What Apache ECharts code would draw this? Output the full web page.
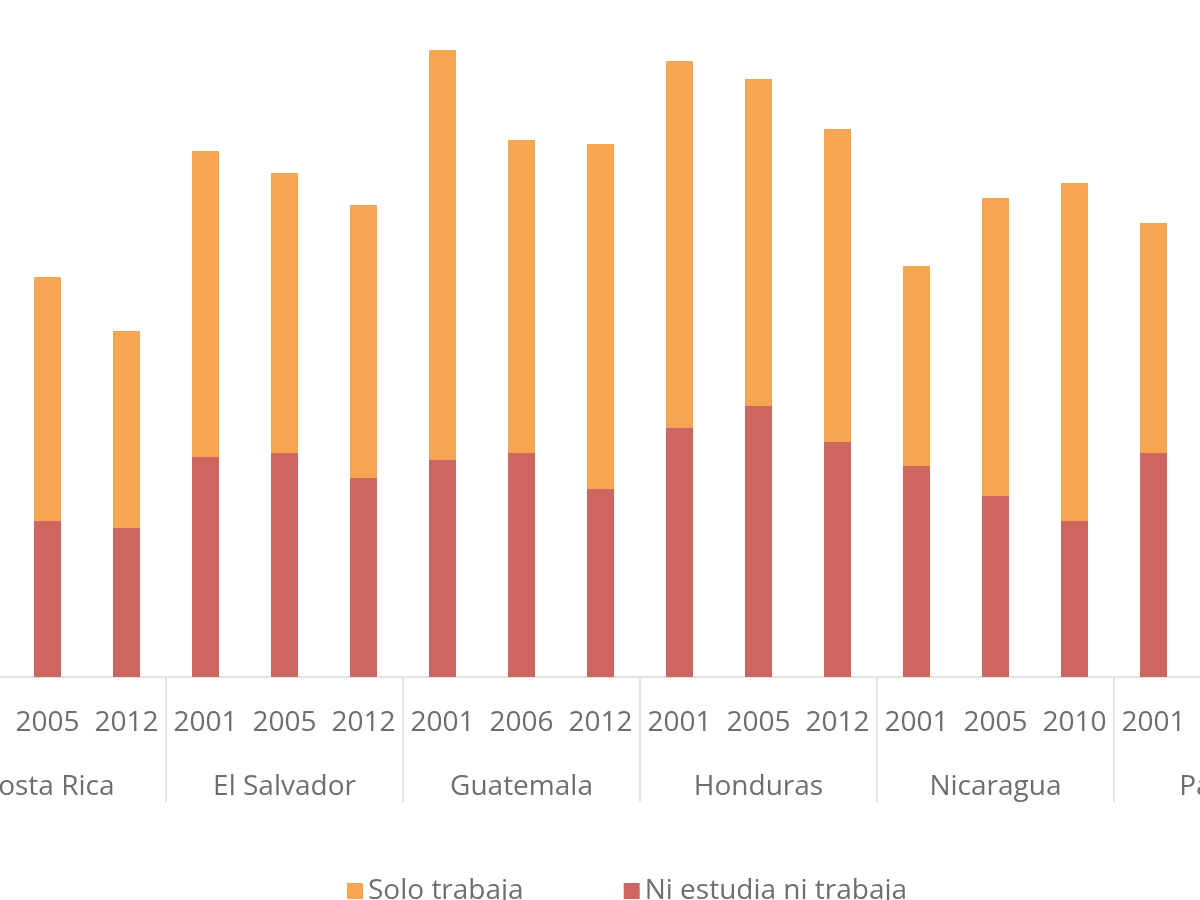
<!DOCTYPE html>
<html>
<head>
<meta charset="utf-8">
<script src="https://cdn.jsdelivr.net/npm/echarts@6/dist/echarts.min.js"></script>
<style>
html,body{margin:0;padding:0;width:1200px;height:900px;overflow:hidden;background:#fff;}
#chart{position:absolute;left:-171px;top:0;width:1600px;height:900px;}
</style>
</head>
<body>
<div id="chart"></div>
<script>
const countries = ['Costa Rica','El Salvador','Guatemala','Honduras','Nicaragua','Panamá'];
const years = ['2001','2005','2012','2001','2005','2012','2001','2006','2012','2001','2005','2012','2001','2005','2010','2001','2005','2011'];
const soloTrabaja = [25.0,24.4,19.7,30.6,28.0,27.3,41.0,31.3,34.5,36.7,32.7,31.3,20.0,29.8,33.8,23.0,24.0,23.0];
const niEstudiaNiTrabaja = [17.0,15.6,14.9,22.0,22.4,19.9,21.7,22.4,18.8,24.9,27.1,23.5,21.1,18.1,15.6,22.4,20.0,17.0];

const chart = echarts.init(document.getElementById('chart'));
const txt = '#6e6e6e';
const font = '"Open Sans", "DejaVu Sans", sans-serif';
chart.setOption({
  animation:false,
  grid:{left:100, width:1422, top:27, bottom:223},
  legend:{
    left:513, top:872, itemWidth:16, itemHeight:16, itemGap:100,
    icon:'rect',
    textStyle:{color:txt, fontSize:28, fontFamily:font},
    data:['Solo trabaja','Ni estudia ni trabaja']
  },
  xAxis:[
    {type:'category', data:years, position:'bottom',
     axisLine:{show:true, lineStyle:{color:'#d9d9d9', width:1.5}},
     axisTick:{show:false},
     axisLabel:{color:txt, fontSize:28, fontFamily:font, margin:32, interval:0}},
    {type:'category', data:countries, position:'bottom',
     axisLine:{show:false},
     axisTick:{show:true, length:125, alignWithLabel:false, lineStyle:{color:'#dcdcdc', width:1.5}},
     axisLabel:{color:txt, fontSize:28, fontFamily:font, margin:96, interval:0}}
  ],
  yAxis:{type:'value', min:0, max:65, show:false, splitLine:{show:false}},
  series:[
    {name:'Ni estudia ni trabaja', type:'bar', stack:'t', barWidth:27, xAxisIndex:0,
     itemStyle:{color:'#CD6560'}, data:niEstudiaNiTrabaja},
    {name:'Solo trabaja', type:'bar', stack:'t', barWidth:27, xAxisIndex:0,
     itemStyle:{color:'#F6A553'}, data:soloTrabaja}
  ]
});
</script>
</body>
</html>
